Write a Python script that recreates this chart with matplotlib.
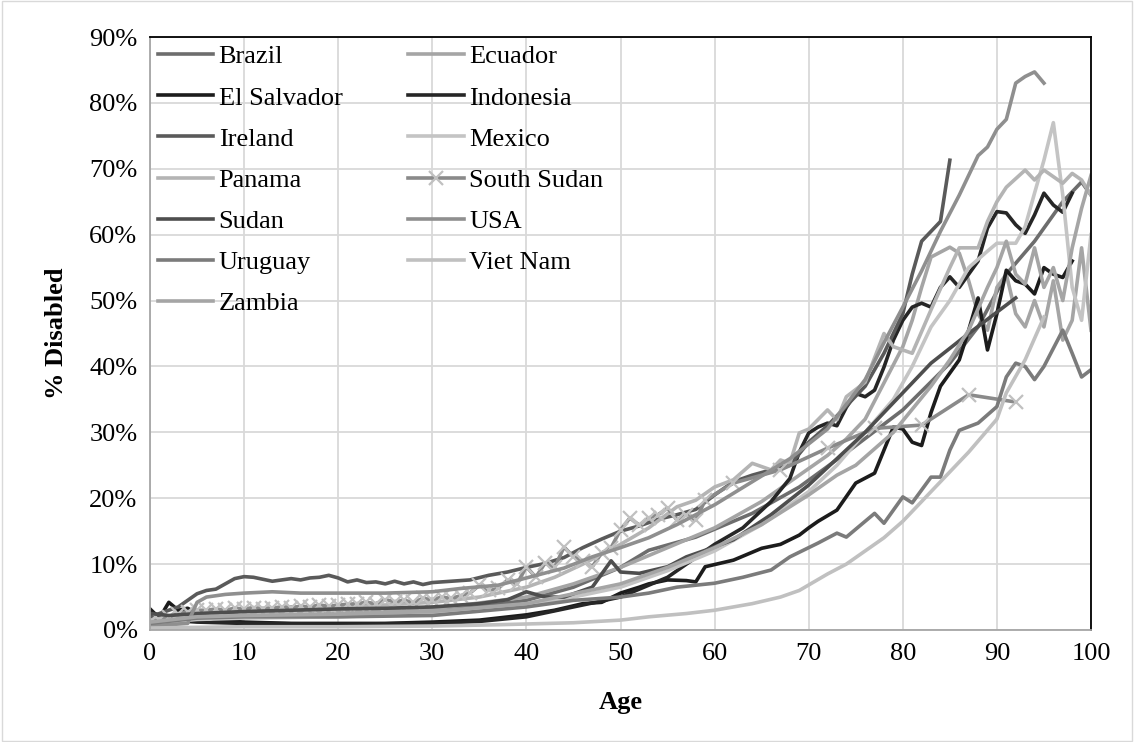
import numpy as np
import matplotlib
matplotlib.use("Agg")
import matplotlib.pyplot as plt
from matplotlib.patches import Rectangle

plt.rcParams['font.family'] = ['Liberation Serif', 'DejaVu Serif']

# --- data: % disabled by age ---
countries = ['Brazil', 'Ecuador', 'El Salvador', 'Indonesia', 'Ireland', 'Mexico',
             'Panama', 'South Sudan', 'Sudan', 'USA', 'Uruguay', 'Viet Nam', 'Zambia']

brazil_age = [0, 5, 10, 15, 20, 25, 30, 35, 40, 45, 50, 53, 58, 64, 69, 74, 80, 85, 88, 91, 94, 97, 99, 100]
brazil_pct = [1.5, 2.0, 2.5, 2.6, 2.8, 3.0, 3.2, 3.6, 4.5, 6.5, 9.5, 12.1, 14.1, 17.7, 21.7, 26.9, 33.4, 40.5, 46.0, 54.0, 59.0, 65.0, 68.0, 66.0]

ecuador_age = [0, 5, 10, 20, 30, 40, 45, 50, 55, 60, 65, 70, 72, 74, 76, 78, 80, 81, 82, 83, 85, 86, 87, 88, 89, 90, 91, 92, 93, 94, 95, 96, 97, 98, 99, 100]
ecuador_pct = [1.5, 2.2, 2.5, 2.8, 3.2, 5.0, 7.0, 9.5, 12.5, 15.5, 19.5, 24.5, 26.5, 29.0, 32.0, 37.5, 43.0, 47.0, 52.0, 56.6, 58.1, 57.2, 53.0, 48.0, 45.5, 52.0, 54.0, 48.0, 46.0, 50.0, 46.0, 53.0, 44.0, 47.0, 58.0, 45.5]

elsal_age = [0, 1, 2, 3, 4, 5, 7, 10, 15, 20, 25, 30, 35, 40, 43, 46, 48, 50, 52, 53, 55, 57, 58, 59, 62, 65, 67, 69, 70, 71, 73, 75, 77, 79, 80, 81, 82, 83, 84, 85, 86, 87, 88, 89, 90, 91, 92, 93, 94, 95, 96, 97, 98]
elsal_pct = [3.2, 1.8, 4.2, 3.0, 3.3, 2.5, 1.5, 1.2, 1.0, 1.0, 1.0, 1.2, 1.5, 2.3, 3.0, 4.0, 4.2, 5.6, 6.5, 7.0, 7.6, 7.5, 7.3, 9.6, 10.6, 12.4, 13.0, 14.4, 15.5, 16.5, 18.2, 22.3, 23.8, 30.8, 30.5, 28.5, 28.0, 33.0, 37.0, 39.0, 41.0, 45.5, 50.4, 42.5, 48.0, 54.6, 53.0, 52.5, 51.0, 55.0, 54.0, 53.5, 56.0]

indo_age = [0, 2, 5, 10, 20, 30, 35, 40, 45, 50, 55, 60, 63, 66, 68, 69, 70, 71, 72, 73, 74, 75, 76, 77, 78, 79, 80, 81, 82, 83, 84, 85, 86, 87, 88, 89, 90, 91, 92, 93, 94, 95, 96, 97, 98]
indo_pct = [2.8, 1.5, 1.2, 1.0, 0.9, 1.0, 1.3, 2.0, 3.5, 5.0, 8.0, 13.0, 15.5, 19.5, 23.0, 27.0, 29.9, 30.8, 31.4, 31.0, 33.8, 35.9, 35.4, 36.4, 39.9, 44.0, 47.0, 49.0, 49.6, 49.0, 52.0, 53.6, 52.0, 54.0, 56.0, 61.0, 63.5, 63.3, 61.5, 60.2, 63.0, 66.3, 64.5, 63.4, 66.3]

ireland_age = [0, 1, 2, 3, 4, 5, 6, 7, 8, 9, 10, 11, 12, 13, 14, 15, 16, 17, 18, 19, 20, 21, 22, 23, 24, 25, 26, 27, 28, 29, 30, 32, 34, 36, 38, 40, 42, 44, 46, 48, 50, 52, 54, 56, 58, 60, 62, 64, 66, 68, 70, 72, 74, 76, 78, 80, 81, 82, 83, 84, 85]
ireland_pct = [2.0, 2.5, 3.0, 3.5, 4.5, 5.5, 6.0, 6.2, 7.0, 7.8, 8.1, 8.0, 7.7, 7.4, 7.6, 7.8, 7.6, 7.9, 8.0, 8.3, 7.9, 7.3, 7.6, 7.2, 7.3, 7.0, 7.4, 7.0, 7.3, 6.9, 7.2, 7.4, 7.6, 8.3, 8.8, 9.5, 10.1, 11.0, 12.5, 13.8, 15.0, 15.8, 16.8, 17.5, 18.3, 20.5, 22.5, 23.5, 24.3, 25.0, 28.5, 31.0, 34.0, 37.0, 42.0, 48.0, 54.0, 59.0, 60.5, 62.0, 71.3]

mexico_age = [0, 5, 10, 20, 30, 40, 45, 50, 55, 60, 65, 70, 73, 76, 79, 81, 83, 85, 87, 89, 90, 92, 93, 94, 95, 96, 97, 98, 99, 100]
mexico_pct = [1.0, 1.6, 1.8, 2.0, 2.5, 3.8, 5.0, 6.5, 9.0, 12.0, 16.0, 21.0, 25.0, 30.0, 35.0, 40.0, 46.0, 50.0, 55.0, 57.5, 58.7, 58.7, 61.2, 66.3, 71.3, 77.0, 66.0, 52.0, 47.0, 60.0]

panama_age = [0, 5, 10, 15, 20, 25, 30, 35, 40, 43, 46, 50, 53, 56, 58, 60, 62, 64, 66, 67, 68, 69, 70, 72, 73, 74, 76, 78, 79, 81, 83, 85, 86, 88, 89, 90, 91, 93, 94, 95, 96, 97, 98, 99, 100]
panama_pct = [1.5, 2.8, 3.2, 3.5, 3.6, 3.8, 4.2, 5.0, 6.5, 8.0, 10.0, 13.0, 15.5, 18.7, 19.7, 21.7, 22.8, 25.3, 24.3, 25.8, 25.3, 29.9, 30.5, 33.4, 31.9, 35.4, 37.6, 45.0, 43.0, 42.0, 48.6, 55.0, 58.0, 58.0, 62.0, 65.0, 67.2, 69.8, 68.3, 69.8, 68.8, 67.8, 69.3, 68.3, 66.0]

ssudan_age = list(range(0, 60)) + [62, 67, 72, 77, 82, 87, 92]
ssudan_pct = [1.2, 1.5, 2.0, 2.5, 2.8, 3.0, 3.0, 3.2, 3.0, 3.3,
              3.2, 3.4, 3.2, 3.3, 3.5, 3.4, 3.6, 3.5, 3.8, 3.6,
              3.8, 3.9, 4.0, 4.2, 4.0, 4.6, 4.3, 4.5, 4.2, 4.8,
              4.6, 5.0, 4.8, 5.2, 5.6, 6.8, 6.0, 6.3, 7.6, 7.0,
              9.6, 8.0, 10.2, 9.5, 12.6, 11.1, 10.5, 9.6, 11.7, 12.5,
              15.2, 17.0, 15.9, 17.0, 17.5, 18.5, 16.7, 17.5, 16.7, 19.7,
              22.3, 24.3, 27.6, 30.6, 31.1, 35.7, 34.6]

sudan_age = [0, 2, 5, 10, 15, 20, 25, 30, 35, 38, 40, 42, 44, 47, 49, 50, 52, 55, 57, 59, 62, 66, 70, 76, 83, 87, 92]
sudan_pct = [2.5, 2.2, 2.5, 2.8, 3.0, 3.2, 3.3, 3.5, 4.0, 4.6, 5.8, 5.0, 5.0, 6.5, 10.5, 8.8, 8.6, 9.6, 11.1, 12.1, 13.7, 17.5, 22.0, 30.0, 40.5, 45.0, 50.4]

usa_age = [0, 2, 4, 5, 6, 8, 10, 13, 16, 20, 25, 30, 33, 37, 40, 44, 47, 50, 53, 56, 60, 64, 68, 72, 76, 78, 80, 82, 84, 86, 88, 89, 90, 91, 92, 93, 94, 95]
usa_pct = [0.6, 0.8, 1.0, 4.2, 5.0, 5.4, 5.6, 5.8, 5.6, 5.6, 5.6, 5.8, 6.3, 6.8, 7.9, 9.4, 11.1, 12.5, 14.0, 16.0, 19.0, 22.5, 26.0, 30.5, 38.0, 43.6, 49.0, 54.5, 60.5, 66.0, 72.0, 73.3, 76.0, 77.5, 83.0, 84.0, 84.7, 83.0]

uruguay_age = [0, 5, 10, 20, 30, 40, 45, 50, 53, 56, 60, 63, 66, 68, 71, 73, 74, 77, 78, 80, 81, 83, 84, 85, 86, 88, 90, 91, 92, 93, 94, 95, 97, 98, 99, 100]
uruguay_pct = [1.0, 1.8, 2.0, 2.0, 2.2, 3.5, 4.5, 5.0, 5.6, 6.5, 7.1, 8.0, 9.1, 11.1, 13.2, 14.7, 14.1, 17.7, 16.2, 20.2, 19.3, 23.2, 23.2, 27.3, 30.3, 31.4, 33.9, 38.4, 40.5, 40.0, 38.0, 40.0, 45.5, 42.0, 38.4, 39.5]

vietnam_age = [0, 5, 10, 20, 30, 37, 45, 50, 53, 57, 60, 64, 67, 69, 72, 74, 76, 78, 80, 83, 85, 87, 90, 91, 93, 95]
vietnam_pct = [0.3, 0.4, 0.5, 0.5, 0.6, 0.8, 1.1, 1.5, 2.0, 2.5, 3.0, 4.0, 5.0, 6.0, 8.5, 10.0, 12.0, 14.0, 16.5, 21.0, 24.0, 27.0, 32.0, 36.0, 41.0, 47.5]

zambia_age = [0, 5, 10, 20, 30, 40, 45, 50, 55, 60, 65, 70, 73, 75, 77, 79, 81, 83, 85, 87, 89, 90, 91, 92, 93, 94, 95, 96, 97, 98, 99, 100]
zambia_pct = [1.2, 2.0, 2.2, 2.4, 2.8, 4.0, 5.5, 7.0, 9.5, 12.5, 16.0, 20.5, 23.5, 25.0, 27.5, 30.0, 33.5, 37.0, 41.0, 45.5, 52.0, 55.0, 59.0, 54.0, 52.5, 58.0, 52.0, 55.0, 50.0, 58.0, 64.0, 69.0]

ages = [brazil_age, ecuador_age, elsal_age, indo_age, ireland_age, mexico_age, panama_age,
        ssudan_age, sudan_age, usa_age, uruguay_age, vietnam_age, zambia_age]
pcts = [brazil_pct, ecuador_pct, elsal_pct, indo_pct, ireland_pct, mexico_pct, panama_pct,
        ssudan_pct, sudan_pct, usa_pct, uruguay_pct, vietnam_pct, zambia_pct]
colors = ['#6d6d6d', '#a5a5a5', '#1c1c1c', '#262626', '#5a5a5a', '#c4c4c4', '#b4b4b4',
          '#8a8a8a', '#4e4e4e', '#8f8f8f', '#7b7b7b', '#c0c0c0', '#a5a5a5']

FS = 19

fig = plt.figure(figsize=(11.34, 7.42), dpi=100)
ax = fig.add_axes([150/1134, 1-630/742, (1091-150)/1134, (630-37)/742])

lines = []
for i, name in enumerate(countries):
    if name == 'South Sudan':
        ln, = ax.plot(ages[i], pcts[i], color=colors[i], lw=2.6, marker='x', ms=10,
                      mec='#c0c0c0', mew=1.6, label=name, solid_joinstyle='round')
    else:
        ln, = ax.plot(ages[i], pcts[i], color=colors[i], lw=2.6, label=name,
                      solid_joinstyle='round')
    lines.append(ln)

ax.set_xlim(0, 100)
ax.set_ylim(0, 90)
ax.set_xticks(np.arange(0, 101, 10))
ax.set_yticks(np.arange(0, 91, 10))
ax.set_yticklabels([f'{v}%' for v in range(0, 91, 10)])
ax.tick_params(length=0, labelsize=FS, pad=9)
ax.grid(True, color='#d9d9d9', lw=1.3)
ax.set_axisbelow(True)
for s in ['top', 'right']:
    ax.spines[s].set_color('black')
    ax.spines[s].set_linewidth(1.3)
for s in ['left', 'bottom']:
    ax.spines[s].set_color('#a6a6a6')
    ax.spines[s].set_linewidth(1.3)

ax.set_xlabel('Age', fontsize=FS, fontweight='bold', labelpad=19)
ax.set_ylabel('% Disabled', fontsize=FS, fontweight='bold', labelpad=15)

# legend laid out row by row like the original
order = [0, 2, 4, 6, 8, 10, 12, 1, 3, 5, 7, 9, 11]
ax.legend([lines[k] for k in order], [countries[k] for k in order], ncol=2,
          loc='upper left', bbox_to_anchor=(0.0, 1.0), frameon=False, fontsize=FS,
          handlelength=2.1, handletextpad=0.2, columnspacing=2.5, labelspacing=0.67,
          borderpad=0.25, borderaxespad=0.05)

fig.patches.append(Rectangle((0.002, 0.002), 0.996, 0.996, transform=fig.transFigure,
                             fill=False, edgecolor='#d9d9d9', lw=1))

fig.savefig('out.png', dpi=100)
